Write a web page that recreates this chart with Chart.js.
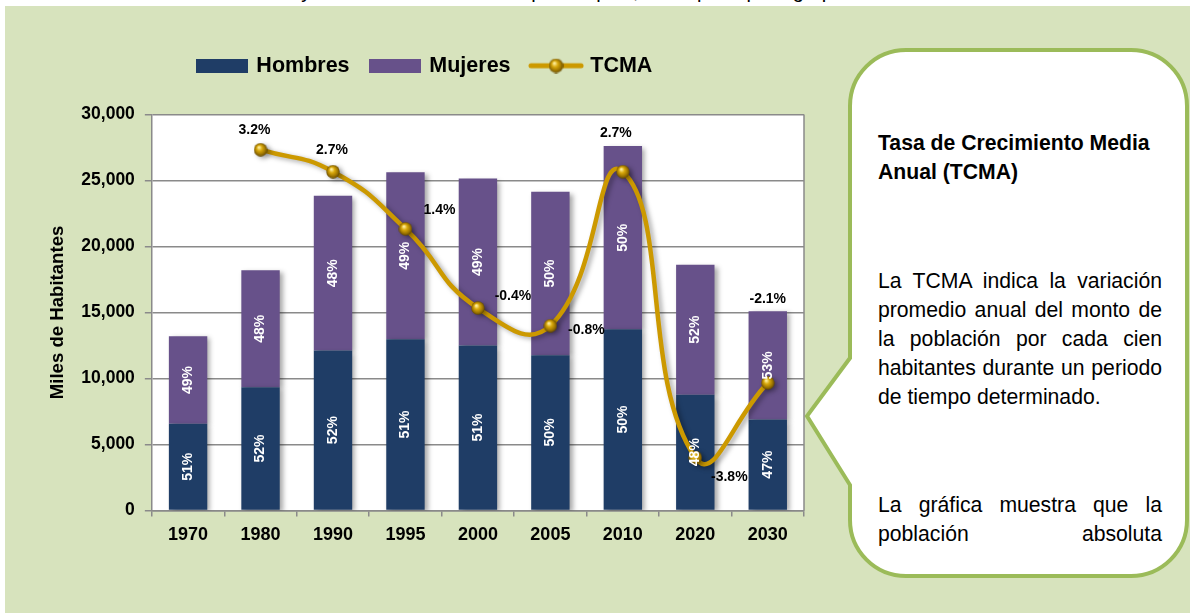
<!DOCTYPE html>
<html><head><meta charset="utf-8">
<script src="https://cdn.jsdelivr.net/npm/chart.js@4.4.1/dist/chart.umd.min.js"></script>
<style>
html,body{margin:0;padding:0;width:1190px;height:613px;overflow:hidden;background:#fff;font-family:Arial,"Liberation Sans",sans-serif;}
#cap{position:absolute;left:20px;top:-19px;height:25px;width:1085px;font-size:20px;line-height:20px;overflow:hidden;color:#000;text-align:justify;text-align-last:justify;}
#bg{position:absolute;left:5px;top:6px;width:1185px;height:607px;background:#d7e3bd;}
#wrap{position:absolute;left:15px;top:33px;width:825px;height:533px;}
#callout{position:absolute;left:0;top:0;}
.txt{position:absolute;left:878px;width:284px;font-size:21.2px;line-height:29px;color:#000;text-align:justify;}
.ttl{font-weight:bold;text-align:left;}
.last{text-align-last:justify;}
</style></head>
<body>
<div id="cap">Cuadro 1. Población Total y TCMA en el municipio capital, Chiapas por grupos de sexo 1970 – 2030</div>
<div id="bg"></div>
<svg id="callout" width="1190" height="613">
  <path d="M906 50 H1131 A56 56 0 0 1 1187 106 V520 A56 56 0 0 1 1131 576 H906 A56 56 0 0 1 850 520 V485 L807 416 L850 358 V106 A56 56 0 0 1 906 50 Z" fill="#fff" stroke="#9bbb59" stroke-width="4"/>
</svg>
<div class="txt ttl" style="top:128px;">Tasa de Crecimiento Media Anual (TCMA)</div>
<div class="txt" style="top:266px;">La TCMA indica la variación promedio anual del monto de la población por cada cien habitantes durante un periodo de tiempo determinado.</div>
<div class="txt last" style="top:490px;">La gráfica muestra que la población absoluta</div>
<div id="wrap"><canvas id="c" width="825" height="533"></canvas></div>
<script>
const years = ['1970','1980','1990','1995','2000','2005','2010','2020','2030'];
const hombres = [6560, 9330, 12110, 12970, 12490, 11760, 13720, 8770, 6880];
const mujeres = [6630, 8860, 11730, 12660, 12660, 12390, 13890, 9850, 8220];
const tcma = [null, 3.2, 2.7, 1.4, -0.4, -0.8, 2.7, -3.8, -2.1];
const hombresPct = ['51%','52%','52%','51%','51%','50%','50%','48%','47%'];
const mujeresPct = ['49%','48%','48%','49%','49%','50%','50%','52%','53%'];
const seriesNames = ['Hombres','Mujeres','TCMA'];
const yAxisTitle = 'Miles de Habitantes';

// label placement (style only): offset of TCMA label centre from its point
const tcmaLabelOffset = [[0,0],[-6,-20],[-1,-22],[34,-19],[35,-12],[36,4],[-7,-39],[34,20],[0,-84]];

const NAVY = '#1f3d66', PURPLE = '#67518a', GOLD = '#cc9900';
const FONT = 'Arial, "Liberation Sans", sans-serif';
Chart.defaults.font.family = FONT;

function sphere(d){
  const c = document.createElement('canvas'); c.width = c.height = d;
  const g = c.getContext('2d');
  const grd = g.createRadialGradient(d*0.38, d*0.32, d*0.04, d/2, d/2, d/2);
  grd.addColorStop(0, '#fff0a0'); grd.addColorStop(0.35, '#d9a90c');
  grd.addColorStop(0.75, '#9a7200'); grd.addColorStop(1, '#5a4200');
  g.fillStyle = grd; g.beginPath(); g.arc(d/2, d/2, d/2 - 0.3, 0, Math.PI*2); g.fill();
  return c;
}
function rectIcon(col){
  const c = document.createElement('canvas'); c.width = 52; c.height = 14;
  const g = c.getContext('2d'); g.fillStyle = col; g.fillRect(0,0,52,14); return c;
}
function lineIcon(){
  const c = document.createElement('canvas'); c.width = 56; c.height = 16;
  const g = c.getContext('2d');
  g.strokeStyle = GOLD; g.lineWidth = 5; g.lineCap = 'round';
  g.beginPath(); g.moveTo(3,8); g.lineTo(53,8); g.stroke();
  g.drawImage(sphere(15), 20.5, 0.5);
  return c;
}
const ball = sphere(14);
const icons = [rectIcon(NAVY), rectIcon(PURPLE), lineIcon()];

const legendGap = {
  id: 'legendGap',
  beforeInit(chart){
    const fit = chart.legend.fit;
    chart.legend.fit = function(){ fit.bind(chart.legend)(); this.height += 28; };
  }
};
const plotBg = {
  id: 'plotBg',
  beforeDraw(chart){
    const {ctx, chartArea: a} = chart;
    ctx.save(); ctx.fillStyle = '#fff'; ctx.fillRect(a.left, a.top, a.right - a.left, a.bottom - a.top); ctx.restore();
  },
  beforeDatasetsDraw(chart){
    const {ctx, chartArea: a} = chart;
    ctx.save(); ctx.strokeStyle = '#8a8a8a'; ctx.lineWidth = 1.5;
    ctx.beginPath(); ctx.moveTo(a.right, a.top); ctx.lineTo(a.right, a.bottom); ctx.stroke();
    ctx.restore();
  }
};
const shadow = {
  id: 'shadow',
  beforeDatasetDraw(chart){
    const ctx = chart.ctx; ctx.save();
    ctx.shadowColor = 'rgba(0,0,0,0.35)'; ctx.shadowBlur = 5; ctx.shadowOffsetX = 3; ctx.shadowOffsetY = 2;
  },
  afterDatasetDraw(chart){ chart.ctx.restore(); }
};
const labels = {
  id: 'labels',
  afterDatasetsDraw(chart){
    const ctx = chart.ctx;
    ctx.save();
    ctx.font = 'bold 14px ' + FONT; ctx.textAlign = 'center'; ctx.textBaseline = 'middle';
    [[0, hombresPct], [1, mujeresPct]].forEach(([di, txt]) => {
      chart.getDatasetMeta(di).data.forEach((el, i) => {
        const p = el.getProps(['x','y','base'], true);
        ctx.save(); ctx.translate(p.x, (p.y + p.base) / 2); ctx.rotate(-Math.PI/2);
        ctx.fillStyle = '#fff'; ctx.fillText(txt[i], 0, 0); ctx.restore();
      });
    });
    ctx.fillStyle = '#000';
    chart.getDatasetMeta(2).data.forEach((el, i) => {
      if (tcma[i] === null) return;
      const o = tcmaLabelOffset[i];
      ctx.fillText(tcma[i].toFixed(1) + '%', el.x + o[0], el.y + o[1]);
    });
    ctx.restore();
  }
};

new Chart(document.getElementById('c'), {
  data: {
    labels: years,
    datasets: [
      { type: 'bar', label: seriesNames[0], data: hombres, backgroundColor: NAVY, stack: 's', order: 1,
        barPercentage: 0.53, categoryPercentage: 1, yAxisID: 'y' },
      { type: 'bar', label: seriesNames[1], data: mujeres, backgroundColor: PURPLE, stack: 's', order: 1,
        barPercentage: 0.53, categoryPercentage: 1, yAxisID: 'y' },
      { type: 'line', label: seriesNames[2], data: tcma, borderColor: GOLD, borderWidth: 4.5, tension: 0.5,
        pointStyle: ball, pointRadius: 7, order: 0, yAxisID: 'y1', fill: false }
    ]
  },
  options: {
    responsive: false, animation: false,
    layout: { padding: { left: 32, right: 36, top: 0, bottom: 12 } },
    plugins: {
      tooltip: { enabled: false },
      legend: {
        position: 'top',
        labels: {
          usePointStyle: true, pointStyleWidth: 47, boxHeight: 14,
          padding: 22, color: '#000', font: { size: 21.5, weight: 'bold' },
          generateLabels: () => seriesNames.map((t, i) => ({
            text: t, pointStyle: icons[i], fillStyle: 'transparent', strokeStyle: 'transparent',
            lineWidth: 0, hidden: false, datasetIndex: i, fontColor: '#000'
          }))
        }
      }
    },
    scales: {
      x: {
        stacked: true,
        grid: { display: true, drawOnChartArea: false, drawTicks: true, tickLength: 6, color: '#8a8a8a', lineWidth: 1.5, offset: true },
        border: { color: '#8a8a8a', width: 1.5 },
        ticks: { color: '#000', font: { size: 18, weight: 'bold' }, padding: 8 }
      },
      y: {
        stacked: true, min: 0, max: 30000,
        grid: { color: '#8a8a8a', lineWidth: 1.5, tickLength: 7, tickColor: '#8a8a8a' },
        border: { color: '#8a8a8a', width: 1.5 },
        ticks: { stepSize: 5000, color: '#000', font: { size: 17.5, weight: 'bold' }, padding: 10,
                 callback: v => v.toLocaleString('en-US') },
        title: { display: true, text: yAxisTitle, color: '#000', font: { size: 18.6, weight: 'bold' },
                 padding: { top: 0, bottom: 2 } }
      },
      y1: { display: false, min: -5, max: 4 }
    }
  },
  plugins: [legendGap, plotBg, shadow, labels]
});
</script>
</body></html>
